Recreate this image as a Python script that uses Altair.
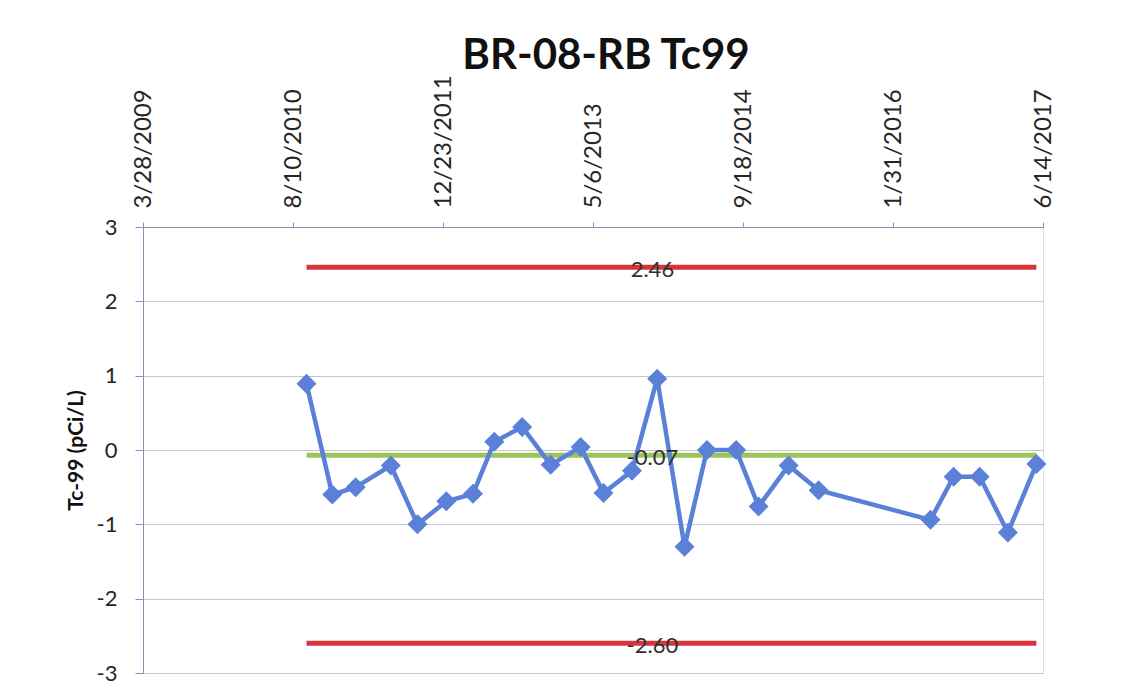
import altair as alt
import pandas as pd

# ---- data ----
sample_dates = ["2010-09-24", "2010-12-19", "2011-03-07", "2011-07-02", "2011-09-29",
                "2012-01-03", "2012-04-01", "2012-06-11", "2012-09-12", "2012-12-16",
                "2013-03-26", "2013-06-10", "2013-09-13", "2013-12-06", "2014-03-07",
                "2014-05-21", "2014-08-26", "2014-11-09", "2015-02-17", "2015-05-28",
                "2016-06-04", "2016-08-20", "2016-11-15", "2017-02-17", "2017-05-23"]
tc99_values = [0.89, -0.60, -0.50, -0.21, -1.00,
               -0.69, -0.59, 0.11, 0.31, -0.20,
               0.04, -0.58, -0.28, 0.96, -1.30,
               0.00, 0.00, -0.76, -0.21, -0.54,
               -0.94, -0.36, -0.36, -1.11, -0.19]

limit_names = ["UCL", "Mean", "LCL"]
limit_values = [2.46, -0.07, -2.60]
limit_labels = ["2.46", "-0.07", "-2.60"]
limit_colors = ["#d9343c", "#9cc45a", "#d9343c"]
label_date = "2013-11-20"

tick_dates = [(2009, 3, 28), (2010, 8, 10), (2011, 12, 23), (2013, 5, 6),
              (2014, 9, 18), (2016, 1, 31), (2017, 6, 14)]
y_ticks = [-3, -2, -1, 0, 1, 2, 3]

FONT = "Lato"

df = pd.DataFrame({"date": sample_dates, "value": tc99_values})
lim = pd.DataFrame({
    "name": limit_names,
    "value": limit_values,
    "label": limit_labels,
    "color": limit_colors,
    "start": [sample_dates[0]] * 3,
    "end": [sample_dates[-1]] * 3,
    "ldate": [label_date] * 3,
})

tick_vals = [alt.DateTime(year=y, month=m, date=d, utc=True) for (y, m, d) in tick_dates]

x_scale = alt.Scale(type="utc", domain=[tick_vals[0], tick_vals[-1]], nice=False)
y_scale = alt.Scale(domain=[-3, 3], nice=False)

x_axis = alt.Axis(
    orient="top", values=tick_vals, labelExpr="utcFormat(datum.value, '%-m/%-d/%Y')",
    labelAngle=-90, labelAlign="left", labelBaseline="middle",
    labelFont=FONT, labelFontSize=24, labelColor="#262626",
    tickSize=5, tickColor="#8c8fb0", labelPadding=14,
    domainColor="#8c8fb0", grid=False, title=None, labelOverlap=False,
    labelFlush=False,
)
y_axis = alt.Axis(
    values=y_ticks, labelExpr="'' + datum.value",
    labelFont=FONT, labelFontSize=22, labelColor="#262626",
    tickSize=8, tickColor="#8c8fb0", labelPadding=18,
    domainColor="#8c8fb0", gridColor="#c4c4da", gridWidth=1.2,
    title="Tc-99 (pCi/L)", titleFont=FONT, titleFontSize=21, titleFontWeight="bold",
    titleColor="#111111", titlePadding=10,
)

base_x = alt.X("date:T", scale=x_scale, axis=x_axis)

limits = alt.Chart(lim).mark_rule(strokeWidth=5).encode(
    x=alt.X("start:T", scale=x_scale, axis=x_axis),
    x2="end:T",
    y=alt.Y("value:Q", scale=y_scale, axis=y_axis),
    color=alt.Color("color:N", scale=None, legend=None),
)

line = alt.Chart(df).mark_line(color="#5b80d8", strokeWidth=4.5).encode(
    x=base_x,
    y=alt.Y("value:Q", scale=y_scale, axis=y_axis),
)
points = alt.Chart(df).mark_point(shape="diamond", filled=True, size=400,
                                  color="#5b80d8", opacity=1).encode(
    x=base_x,
    y=alt.Y("value:Q", scale=y_scale, axis=y_axis),
)
labels = alt.Chart(lim).mark_text(font=FONT, fontSize=22, color="#303030",
                                  baseline="middle", align="center", dy=3).encode(
    x=alt.X("ldate:T", scale=x_scale, axis=x_axis),
    y=alt.Y("value:Q", scale=y_scale, axis=y_axis),
    text="label:N",
)

chart = alt.layer(limits, line, points, labels).properties(
    width=900, height=446,
    title=alt.TitleParams("BR-08-RB Tc99", font=FONT, fontSize=42, fontWeight="bold",
                          color="#111111", anchor="middle", dx=13, offset=-3),
    autosize=alt.AutoSizeParams(type="none"),
    padding={"left": 135, "top": 219, "right": 80, "bottom": 20},
).configure_view(stroke=None).configure(background="white")

chart.save("out.html", embed_options={"renderer": "svg", "actions": False})
